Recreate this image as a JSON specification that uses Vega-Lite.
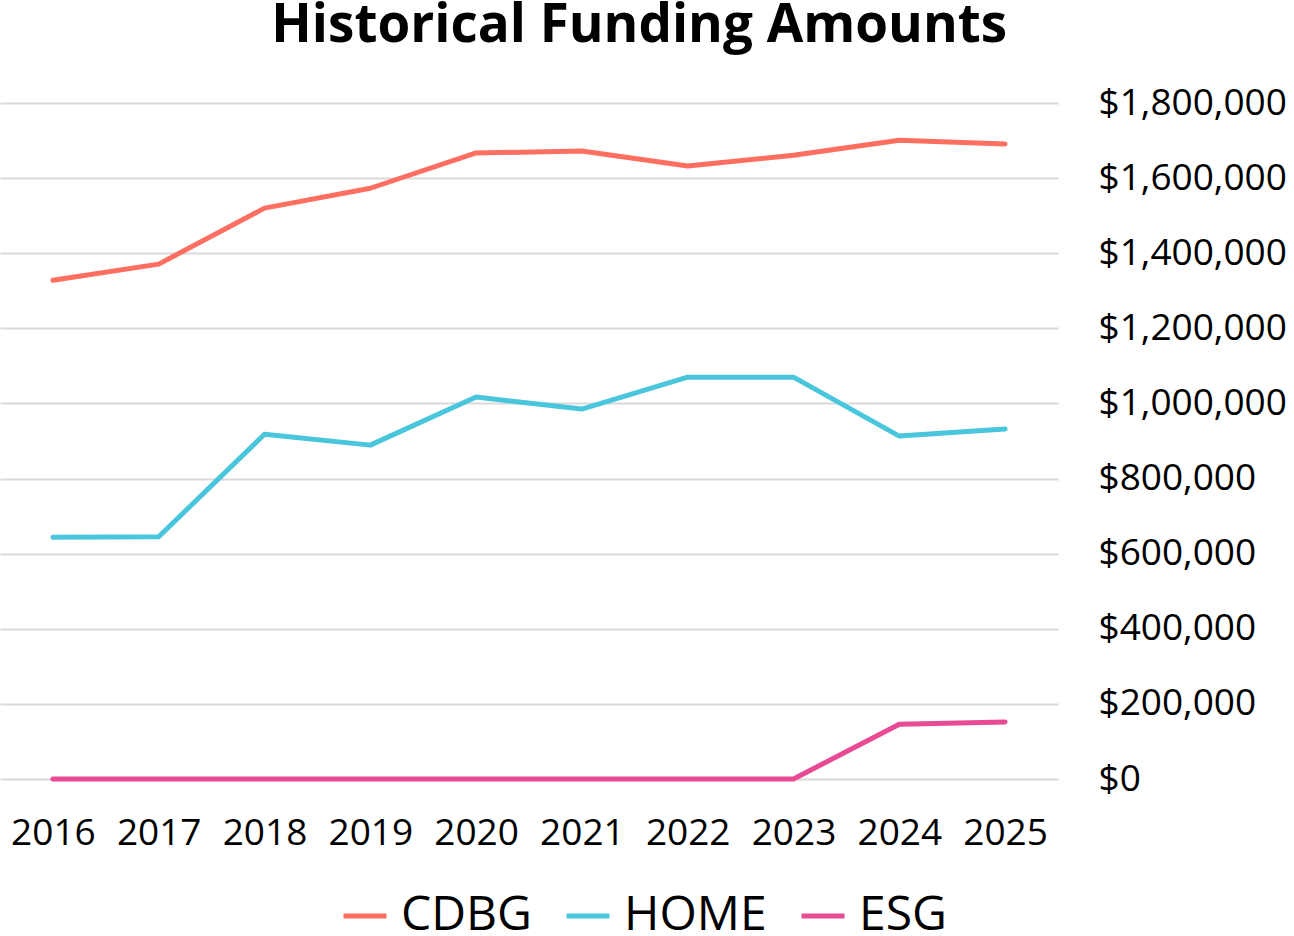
{
  "$schema": "https://vega.github.io/schema/vega-lite/v6.json",
  "width": 1058,
  "height": 676,
  "padding": {"left": 0, "top": 0, "right": 0, "bottom": 0},
  "background": "white",
  "title": {
    "text": "Historical Funding Amounts",
    "font": "Open Sans",
    "fontSize": 53,
    "fontWeight": "bold",
    "color": "#000000",
    "anchor": "middle",
    "frame": "bounds",
    "dx": -4,
    "offset": 31
  },
  "config": {
    "view": {"stroke": null},
    "font": "Open Sans"
  },
  "data": {
    "values": [
      {"year": "2016", "program": "CDBG", "amount": 1328000},
      {"year": "2017", "program": "CDBG", "amount": 1371000},
      {"year": "2018", "program": "CDBG", "amount": 1520000},
      {"year": "2019", "program": "CDBG", "amount": 1573000},
      {"year": "2020", "program": "CDBG", "amount": 1667000},
      {"year": "2021", "program": "CDBG", "amount": 1672000},
      {"year": "2022", "program": "CDBG", "amount": 1632000},
      {"year": "2023", "program": "CDBG", "amount": 1661000},
      {"year": "2024", "program": "CDBG", "amount": 1701000},
      {"year": "2025", "program": "CDBG", "amount": 1691000},
      {"year": "2016", "program": "HOME", "amount": 644000},
      {"year": "2017", "program": "HOME", "amount": 645000},
      {"year": "2018", "program": "HOME", "amount": 918000},
      {"year": "2019", "program": "HOME", "amount": 889000},
      {"year": "2020", "program": "HOME", "amount": 1017000},
      {"year": "2021", "program": "HOME", "amount": 985000},
      {"year": "2022", "program": "HOME", "amount": 1070000},
      {"year": "2023", "program": "HOME", "amount": 1070000},
      {"year": "2024", "program": "HOME", "amount": 913000},
      {"year": "2025", "program": "HOME", "amount": 932000},
      {"year": "2016", "program": "ESG", "amount": 0},
      {"year": "2017", "program": "ESG", "amount": 0},
      {"year": "2018", "program": "ESG", "amount": 0},
      {"year": "2019", "program": "ESG", "amount": 0},
      {"year": "2020", "program": "ESG", "amount": 0},
      {"year": "2021", "program": "ESG", "amount": 0},
      {"year": "2022", "program": "ESG", "amount": 0},
      {"year": "2023", "program": "ESG", "amount": 0},
      {"year": "2024", "program": "ESG", "amount": 146000},
      {"year": "2025", "program": "ESG", "amount": 152000}
    ]
  },
  "mark": {"type": "line", "strokeWidth": 5, "strokeCap": "round", "strokeJoin": "round"},
  "encoding": {
    "x": {
      "field": "year",
      "type": "ordinal",
      "scale": {"type": "point", "padding": 0.5},
      "axis": {
        "title": null,
        "labelAngle": 0,
        "labelFontSize": 37,
        "labelColor": "#000000",
        "labelPadding": 36,
        "ticks": false,
        "domain": false,
        "grid": false
      }
    },
    "y": {
      "field": "amount",
      "type": "quantitative",
      "scale": {"domain": [0, 1800000]},
      "axis": {
        "orient": "right",
        "title": null,
        "values": [0, 200000, 400000, 600000, 800000, 1000000, 1200000, 1400000, 1600000, 1800000],
        "format": "$,.0f",
        "labelFontSize": 37,
        "labelLimit": 400,
        "labelColor": "#000000",
        "labelPadding": 40,
        "ticks": false,
        "domain": false,
        "grid": true,
        "gridColor": "#d9d9d9",
        "gridWidth": 2
      }
    },
    "color": {
      "field": "program",
      "type": "nominal",
      "sort": ["CDBG", "HOME", "ESG"],
      "scale": {"domain": ["CDBG", "HOME", "ESG"], "range": ["#FF6F61", "#4AC6DC", "#E84A93"]},
      "legend": {
        "title": null,
        "orient": "none",
        "legendX": 341,
        "legendY": 789,
        "direction": "horizontal",
        "symbolType": "stroke",
        "symbolStrokeWidth": 5,
        "symbolSize": 1849,
        "labelFontSize": 48,
        "labelColor": "#000000",
        "labelOffset": 12,
        "columnPadding": 24,
        "labelLimit": 400
      }
    }
  }
}
